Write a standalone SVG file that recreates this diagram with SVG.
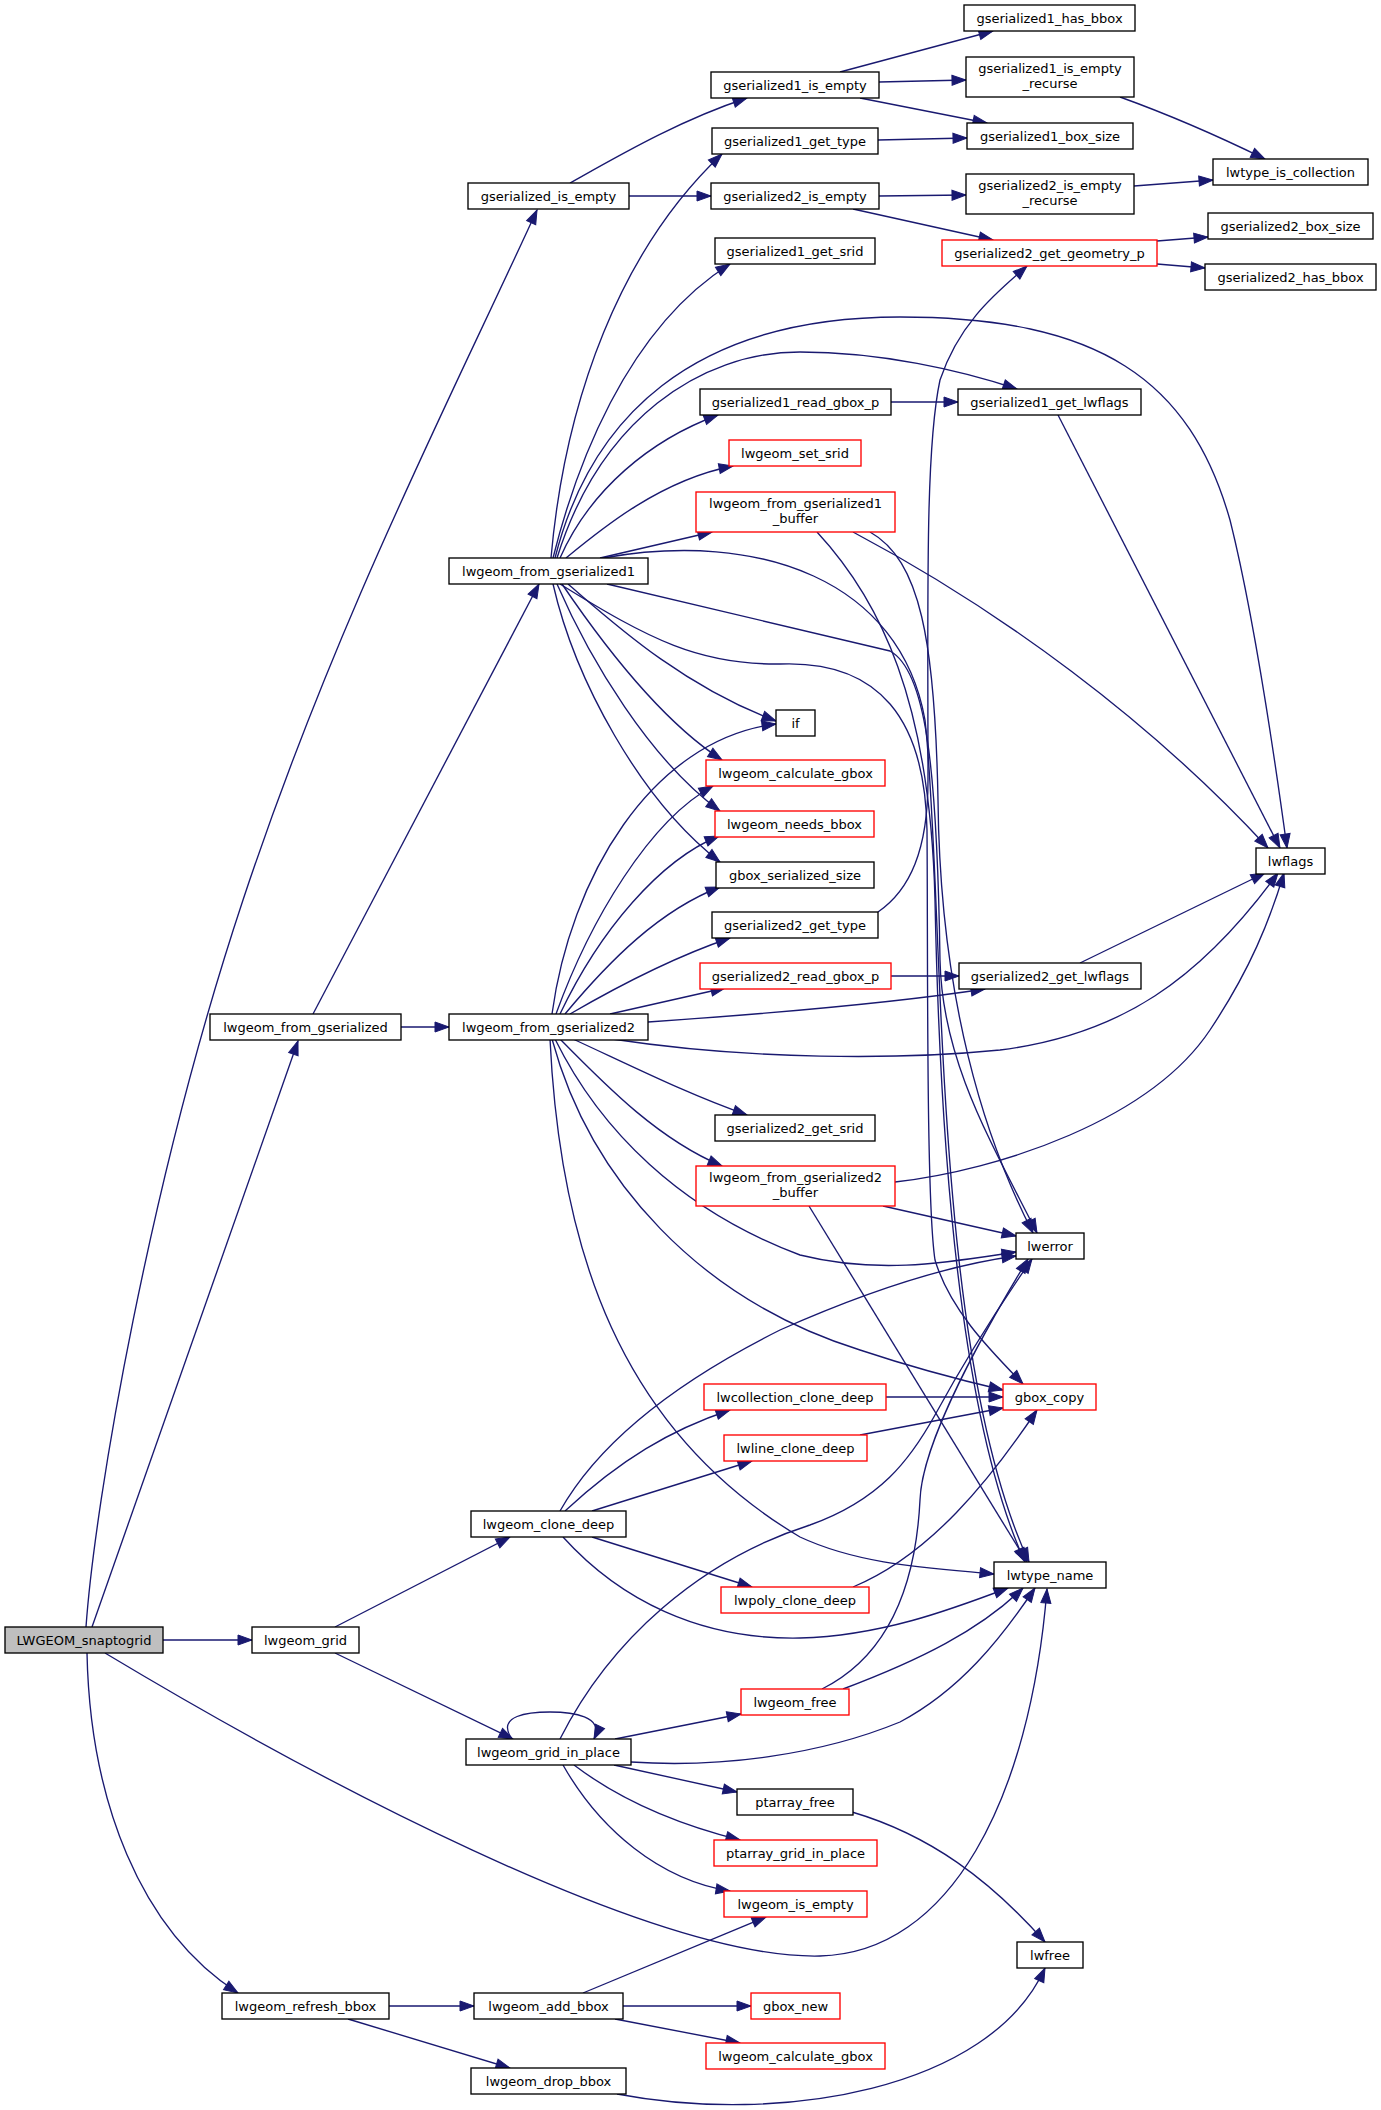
<svg xmlns="http://www.w3.org/2000/svg" width="1381" height="2110" viewBox="0 0 1381 2110">
<style>
.n rect{fill:#ffffff;stroke:#000000;stroke-width:1.35}
.n.r rect{stroke:#ff0000}
.n.root rect{fill:#bfbfbf}
.n text{font-family:"DejaVu Sans","Liberation Sans",sans-serif;font-size:13px;text-anchor:middle;fill:#000000}
#edges path{fill:none;stroke:#191970;stroke-width:1.35;marker-end:url(#a)}
</style>
<defs>
<marker id="a" markerUnits="userSpaceOnUse" markerWidth="14" markerHeight="10" refX="14" refY="5" orient="auto" overflow="visible">
<path d="M0,0 L14,5 L0,10 z" fill="#191970" stroke="#191970" stroke-width="1"/>
</marker>
</defs>
<rect x="0" y="0" width="1381" height="2110" fill="#ffffff"/>
<g id="edges">
<path d="M86,1627 C95,1500 150,1180 243,900 C336,620 450,400 537,210"/>
<path d="M92,1627 L298,1041"/>
<path d="M163,1640 L252,1640"/>
<path d="M105,1653 C300,1770 650,1960 820,1956 C950,1953 1030,1800 1047,1589"/>
<path d="M87,1653 C90,1800 140,1930 238,1993"/>
<path d="M570,183 C620,155 680,120 747,98"/>
<path d="M629,196 L711,196"/>
<path d="M840,72 L993,31"/>
<path d="M879,82 L966,80"/>
<path d="M860,98 L987,123"/>
<path d="M878,140 L967,138"/>
<path d="M879,196 L966,195"/>
<path d="M853,209 L993,240"/>
<path d="M1120,97 C1170,115 1220,137 1265,159"/>
<path d="M1134,186 L1213,180"/>
<path d="M1157,241 L1208,237"/>
<path d="M1157,264 L1205,268"/>
<path d="M313,1014 L539,584"/>
<path d="M401,1027 L449,1027"/>
<path d="M551,558 C565,400 620,250 722,154"/>
<path d="M553,558 C575,470 625,330 730,264"/>
<path d="M555,558 C590,420 690,317 900,317 C1100,317 1190,380 1230,520 C1255,620 1275,760 1287,848"/>
<path d="M557,558 C600,420 700,352 800,352 C880,352 960,370 1017,389"/>
<path d="M560,558 C590,490 650,440 718,415"/>
<path d="M566,558 C600,530 660,480 733,466"/>
<path d="M600,558 L712,532"/>
<path d="M603,558 C760,530 900,580 925,720 C945,900 930,1350 1029,1562"/>
<path d="M607,584 L890,651 C925,670 937,760 940,960 C942,1060 990,1140 1037,1233"/>
<path d="M560,584 C650,640 700,665 780,664 C880,660 925,720 927,830 C928,950 926,1200 935,1260 C950,1310 990,1350 1023,1384"/>
<path d="M568,584 C610,620 680,685 776,721"/>
<path d="M562,584 C600,640 660,720 722,760"/>
<path d="M557,584 C590,660 650,760 720,811"/>
<path d="M553,584 C575,680 640,800 720,862"/>
<path d="M853,532 C1000,610 1150,720 1268,848"/>
<path d="M817,532 C880,600 930,700 935,900 C940,1150 960,1420 1025,1562"/>
<path d="M870,532 C920,560 935,640 938,800 C940,1000 985,1140 1033,1233"/>
<path d="M891,402 L958,402"/>
<path d="M1058,415 L1280,848"/>
<path d="M552,1014 C570,880 650,740 776,724"/>
<path d="M556,1014 C590,920 650,820 713,786"/>
<path d="M560,1014 C600,930 660,860 719,836"/>
<path d="M565,1014 C610,960 660,910 720,887"/>
<path d="M570,1014 C620,985 680,955 730,938"/>
<path d="M610,1014 L725,988"/>
<path d="M648,1022 C750,1015 880,1005 985,989"/>
<path d="M612,1039 C750,1060 900,1060 1000,1050 C1120,1035 1200,980 1278,873"/>
<path d="M573,1039 C640,1070 690,1095 747,1115"/>
<path d="M560,1039 C610,1090 660,1140 722,1166"/>
<path d="M555,1039 C600,1130 680,1210 800,1255 C880,1275 950,1262 1016,1252"/>
<path d="M552,1039 C590,1180 700,1300 860,1350 C920,1370 960,1380 1003,1390"/>
<path d="M550,1039 C560,1250 620,1430 800,1537 C860,1565 930,1568 994,1574"/>
<path d="M891,976 L959,976"/>
<path d="M1080,963 L1265,873"/>
<path d="M878,912 C910,890 928,850 928,780 C928,600 925,450 940,380 C960,320 1000,290 1027,266"/>
<path d="M895,1182 C1000,1170 1150,1120 1210,1030 C1250,970 1270,920 1284,873"/>
<path d="M883,1206 L1016,1236"/>
<path d="M809,1206 L1027,1562"/>
<path d="M335,1627 L510,1537"/>
<path d="M335,1653 L513,1739"/>
<path d="M565,1511 C620,1460 670,1430 730,1410"/>
<path d="M592,1511 L752,1461"/>
<path d="M592,1537 L752,1587"/>
<path d="M560,1511 C600,1440 680,1380 780,1330 C870,1290 950,1265 1016,1256"/>
<path d="M563,1537 C620,1600 700,1640 800,1638 C880,1636 950,1610 1008,1588"/>
<path d="M886,1397 L1003,1397"/>
<path d="M860,1435 L1003,1408"/>
<path d="M853,1587 C930,1555 990,1480 1037,1410"/>
<path d="M512,1739 C495,1715 530,1712 550,1712 C572,1712 605,1716 594,1739"/>
<path d="M615,1739 L741,1714"/>
<path d="M560,1739 C610,1640 700,1560 810,1525 C880,1500 910,1460 935,1415 C965,1360 1000,1305 1032,1259"/>
<path d="M631,1762 C720,1768 820,1755 900,1722 C960,1690 1000,1640 1035,1588"/>
<path d="M614,1765 L737,1792"/>
<path d="M574,1765 C620,1800 680,1825 740,1840"/>
<path d="M563,1765 C600,1830 660,1880 730,1891"/>
<path d="M822,1689 C880,1660 915,1600 920,1500 C922,1440 985,1330 1028,1259"/>
<path d="M843,1689 C920,1660 980,1630 1023,1588"/>
<path d="M852,1812 C930,1835 990,1880 1045,1942"/>
<path d="M389,2006 L474,2006"/>
<path d="M348,2019 L510,2068"/>
<path d="M583,1993 L766,1917"/>
<path d="M623,2006 L751,2006"/>
<path d="M615,2019 L740,2043"/>
<path d="M617,2094 C780,2125 990,2090 1045,1968"/>
</g>
<g id="node_LWGEOM_snaptogrid" class="n root"><rect x="5" y="1627" width="158" height="26"/><text x="84" y="1644.5">LWGEOM_snaptogrid</text></g>
<g id="node_gserialized_is_empty" class="n"><rect x="468" y="183" width="161" height="26"/><text x="548.5" y="200.5">gserialized_is_empty</text></g>
<g id="node_lwgeom_from_gserialized" class="n"><rect x="210" y="1014" width="191" height="26"/><text x="305.5" y="1031.5">lwgeom_from_gserialized</text></g>
<g id="node_lwgeom_grid" class="n"><rect x="252" y="1627" width="107" height="26"/><text x="305.5" y="1644.5">lwgeom_grid</text></g>
<g id="node_lwgeom_refresh_bbox" class="n"><rect x="222" y="1993" width="167" height="26"/><text x="305.5" y="2010.5">lwgeom_refresh_bbox</text></g>
<g id="node_lwgeom_from_gserialized1" class="n"><rect x="449" y="558" width="199" height="26"/><text x="548.5" y="575.5">lwgeom_from_gserialized1</text></g>
<g id="node_lwgeom_from_gserialized2" class="n"><rect x="449" y="1014" width="199" height="26"/><text x="548.5" y="1031.5">lwgeom_from_gserialized2</text></g>
<g id="node_lwgeom_clone_deep" class="n"><rect x="471" y="1511" width="155" height="26"/><text x="548.5" y="1528.5">lwgeom_clone_deep</text></g>
<g id="node_lwgeom_grid_in_place" class="n"><rect x="466" y="1739" width="165" height="26"/><text x="548.5" y="1756.5">lwgeom_grid_in_place</text></g>
<g id="node_lwgeom_add_bbox" class="n"><rect x="474" y="1993" width="149" height="26"/><text x="548.5" y="2010.5">lwgeom_add_bbox</text></g>
<g id="node_lwgeom_drop_bbox" class="n"><rect x="471" y="2068" width="155" height="26"/><text x="548.5" y="2085.5">lwgeom_drop_bbox</text></g>
<g id="node_gserialized1_is_empty" class="n"><rect x="711" y="72" width="168" height="26"/><text x="795" y="89.5">gserialized1_is_empty</text></g>
<g id="node_gserialized1_get_type" class="n"><rect x="712" y="128" width="166" height="26"/><text x="795" y="145.5">gserialized1_get_type</text></g>
<g id="node_gserialized2_is_empty" class="n"><rect x="711" y="183" width="168" height="26"/><text x="795" y="200.5">gserialized2_is_empty</text></g>
<g id="node_gserialized1_get_srid" class="n"><rect x="715" y="238" width="160" height="26"/><text x="795" y="255.5">gserialized1_get_srid</text></g>
<g id="node_gserialized1_read_gbox_p" class="n"><rect x="700" y="389" width="191" height="26"/><text x="795.5" y="406.5">gserialized1_read_gbox_p</text></g>
<g id="node_lwgeom_set_srid" class="n r"><rect x="729" y="440" width="132" height="26"/><text x="795" y="457.5">lwgeom_set_srid</text></g>
<g id="node_lwgeom_from_gserialized1_buffer" class="n r"><rect x="696" y="492" width="199" height="40"/><text x="795.5" y="508">lwgeom_from_gserialized1</text><text x="795.5" y="523">_buffer</text></g>
<g id="node_if" class="n"><rect x="776" y="710" width="39" height="26"/><text x="795.5" y="727.5">if</text></g>
<g id="node_lwgeom_calculate_gbox" class="n r"><rect x="706" y="760" width="179" height="26"/><text x="795.5" y="777.5">lwgeom_calculate_gbox</text></g>
<g id="node_lwgeom_needs_bbox" class="n r"><rect x="715" y="811" width="159" height="26"/><text x="794.5" y="828.5">lwgeom_needs_bbox</text></g>
<g id="node_gbox_serialized_size" class="n"><rect x="716" y="862" width="158" height="26"/><text x="795" y="879.5">gbox_serialized_size</text></g>
<g id="node_gserialized2_get_type" class="n"><rect x="712" y="912" width="166" height="26"/><text x="795" y="929.5">gserialized2_get_type</text></g>
<g id="node_gserialized2_read_gbox_p" class="n r"><rect x="700" y="963" width="191" height="26"/><text x="795.5" y="980.5">gserialized2_read_gbox_p</text></g>
<g id="node_gserialized2_get_srid" class="n"><rect x="715" y="1115" width="160" height="26"/><text x="795" y="1132.5">gserialized2_get_srid</text></g>
<g id="node_lwgeom_from_gserialized2_buffer" class="n r"><rect x="696" y="1166" width="199" height="40"/><text x="795.5" y="1182">lwgeom_from_gserialized2</text><text x="795.5" y="1197">_buffer</text></g>
<g id="node_lwcollection_clone_deep" class="n r"><rect x="704" y="1384" width="182" height="26"/><text x="795" y="1401.5">lwcollection_clone_deep</text></g>
<g id="node_lwline_clone_deep" class="n r"><rect x="724" y="1435" width="143" height="26"/><text x="795.5" y="1452.5">lwline_clone_deep</text></g>
<g id="node_lwpoly_clone_deep" class="n r"><rect x="721" y="1587" width="148" height="26"/><text x="795" y="1604.5">lwpoly_clone_deep</text></g>
<g id="node_lwgeom_free" class="n r"><rect x="741" y="1689" width="108" height="26"/><text x="795" y="1706.5">lwgeom_free</text></g>
<g id="node_ptarray_free" class="n"><rect x="737" y="1789" width="116" height="26"/><text x="795" y="1806.5">ptarray_free</text></g>
<g id="node_ptarray_grid_in_place" class="n r"><rect x="714" y="1840" width="163" height="26"/><text x="795.5" y="1857.5">ptarray_grid_in_place</text></g>
<g id="node_lwgeom_is_empty" class="n r"><rect x="724" y="1891" width="143" height="26"/><text x="795.5" y="1908.5">lwgeom_is_empty</text></g>
<g id="node_gbox_new" class="n r"><rect x="751" y="1993" width="89" height="26"/><text x="795.5" y="2010.5">gbox_new</text></g>
<g id="node_lwgeom_calculate_gbox_2" class="n r"><rect x="706" y="2043" width="179" height="26"/><text x="795.5" y="2060.5">lwgeom_calculate_gbox</text></g>
<g id="node_gserialized1_has_bbox" class="n"><rect x="964" y="5" width="171" height="26"/><text x="1049.5" y="22.5">gserialized1_has_bbox</text></g>
<g id="node_gserialized1_is_empty_recurse" class="n"><rect x="966" y="57" width="168" height="40"/><text x="1050" y="73">gserialized1_is_empty</text><text x="1050" y="88">_recurse</text></g>
<g id="node_gserialized1_box_size" class="n"><rect x="967" y="123" width="166" height="26"/><text x="1050" y="140.5">gserialized1_box_size</text></g>
<g id="node_gserialized2_is_empty_recurse" class="n"><rect x="966" y="174" width="168" height="40"/><text x="1050" y="190">gserialized2_is_empty</text><text x="1050" y="205">_recurse</text></g>
<g id="node_gserialized2_get_geometry_p" class="n r"><rect x="942" y="240" width="215" height="26"/><text x="1049.5" y="257.5">gserialized2_get_geometry_p</text></g>
<g id="node_gserialized1_get_lwflags" class="n"><rect x="958" y="389" width="183" height="26"/><text x="1049.5" y="406.5">gserialized1_get_lwflags</text></g>
<g id="node_gserialized2_get_lwflags" class="n"><rect x="959" y="963" width="182" height="26"/><text x="1050" y="980.5">gserialized2_get_lwflags</text></g>
<g id="node_lwerror" class="n"><rect x="1016" y="1233" width="68" height="26"/><text x="1050" y="1250.5">lwerror</text></g>
<g id="node_gbox_copy" class="n r"><rect x="1003" y="1384" width="93" height="26"/><text x="1049.5" y="1401.5">gbox_copy</text></g>
<g id="node_lwtype_name" class="n"><rect x="994" y="1562" width="112" height="26"/><text x="1050" y="1579.5">lwtype_name</text></g>
<g id="node_lwfree" class="n"><rect x="1017" y="1942" width="66" height="26"/><text x="1050" y="1959.5">lwfree</text></g>
<g id="node_lwtype_is_collection" class="n"><rect x="1213" y="159" width="155" height="26"/><text x="1290.5" y="176.5">lwtype_is_collection</text></g>
<g id="node_gserialized2_box_size" class="n"><rect x="1208" y="213" width="165" height="26"/><text x="1290.5" y="230.5">gserialized2_box_size</text></g>
<g id="node_gserialized2_has_bbox" class="n"><rect x="1205" y="264" width="171" height="26"/><text x="1290.5" y="281.5">gserialized2_has_bbox</text></g>
<g id="node_lwflags" class="n"><rect x="1256" y="848" width="69" height="26"/><text x="1290.5" y="865.5">lwflags</text></g>
</svg>
